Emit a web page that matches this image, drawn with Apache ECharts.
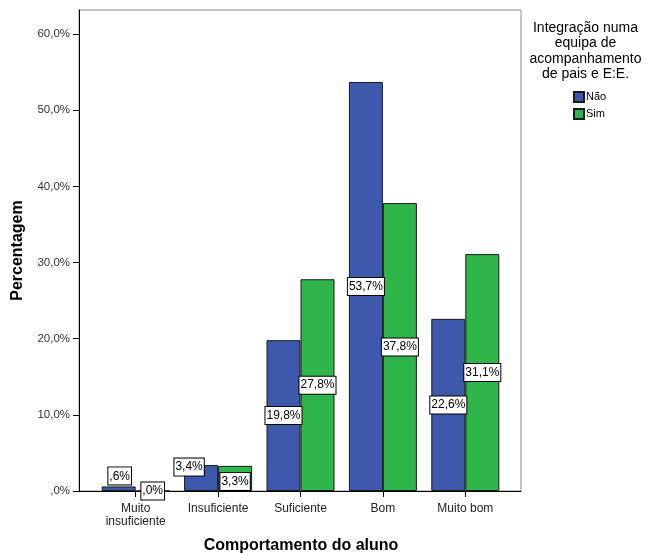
<!DOCTYPE html>
<html>
<head>
<meta charset="utf-8">
<script src="https://cdn.jsdelivr.net/npm/echarts@6/dist/echarts.min.js"></script>
<style>html,body{margin:0;padding:0;background:#fff;}#c{width:649px;height:553px;}</style>
</head>
<body>
<div id="c"></div>
<script>
const categories = ['Muito\ninsuficiente', 'Insuficiente', 'Suficiente', 'Bom', 'Muito bom'];
const seriesNames = ['Não', 'Sim'];
const naoValues = [0.6, 3.4, 19.8, 53.7, 22.6];
const simValues = [0.0, 3.3, 27.8, 37.8, 31.1];
const yTickValues = [0, 10, 20, 30, 40, 50, 60];
const legendTitle = 'Integração numa\nequipa de\nacompanhamento\nde pais e E:E.';
const xTitle = 'Comportamento do aluno';
const yTitle = 'Percentagem';

const FONT = '"Liberation Sans", Arial, sans-serif';
const YMAX = 63.15;

function pct(v) {
  let s = v.toFixed(1).replace('.', ',');
  if (s.startsWith('0')) s = s.slice(1);
  return s + '%';
}

const baseLabel = {
  show: true,
  position: 'inside',
  formatter: p => pct(p.value),
  color: '#000',
  fontFamily: FONT,
  fontSize: 12,
  backgroundColor: '#fff',
  borderColor: '#000',
  borderWidth: 1,
  padding: [3, 1, 2, 1]
};

// label placement overrides (style only)
const naoLabelOverrides = { 0: { position: 'top', distance: 2, offset: [1, 0] }, 1: { position: 'inside', offset: [-12, -11] } };
const simLabelOverrides = { 1: { position: 'inside', offset: [0, 3] } };

function buildData(values, overrides) {
  return values.map((v, i) => overrides[i] ? { value: v, label: overrides[i] } : v);
}

const chart = echarts.init(document.getElementById('c'), null, { renderer: 'canvas' });
chart.setOption({
  animation: false,
  backgroundColor: '#fff',
  grid: [
    { left: 79, top: 10, width: 442, height: 481, show: true, borderColor: '#8a8a8a', borderWidth: 1, backgroundColor: 'transparent' },
    { left: 94.5, top: 10, width: 412, height: 481 }
  ],
  xAxis: [
    { type: 'value', gridIndex: 0, min: 0, max: 1, axisLine: { show: true, lineStyle: { color: '#000', width: 1 } }, axisTick: { show: false }, axisLabel: { show: false }, splitLine: { show: false } },
    { type: 'category', gridIndex: 1, data: categories, boundaryGap: true,
      axisLine: { show: true, lineStyle: { color: '#000', width: 1 } },
      axisTick: { show: true, alignWithLabel: true, length: 6, lineStyle: { color: '#000' } },
      axisLabel: { color: '#222', fontFamily: FONT, fontSize: 12, margin: 11, lineHeight: 13, interval: 0 } }
  ],
  yAxis: [
    { type: 'value', gridIndex: 0, min: 0, max: YMAX, interval: 10,
      axisLine: { show: true, lineStyle: { color: '#000', width: 1 } },
      axisTick: { show: true, length: 6, lineStyle: { color: '#000' }, customValues: yTickValues },
      axisLabel: { color: '#333', fontFamily: FONT, fontSize: 11.5, margin: 9, customValues: yTickValues,
        formatter: v => pct(v) },
      splitLine: { show: false } },
    { type: 'value', gridIndex: 1, min: 0, max: YMAX, show: false, splitLine: { show: false } }
  ],
  legend: {
    data: seriesNames,
    orient: 'vertical',
    left: 568, top: 86,
    itemWidth: 10, itemHeight: 10, itemGap: 5,
    icon: 'rect',
    textStyle: { fontFamily: FONT, fontSize: 11, color: '#000', padding: [0, 0, 0, -3] }
  },
  graphic: [
    { type: 'text', x: 585.5, y: 20, style: { text: legendTitle, textAlign: 'center', textVerticalAlign: 'top', font: '14px ' + FONT, lineHeight: 15.5, fill: '#000' } },
    { type: 'text', x: 301, y: 546, style: { text: xTitle, textAlign: 'center', textVerticalAlign: 'middle', font: 'bold 16px ' + FONT, fill: '#000' } },
    { type: 'text', x: 18, y: 250.5, rotation: Math.PI / 2, style: { text: yTitle, textAlign: 'center', textVerticalAlign: 'middle', font: 'bold 16px ' + FONT, fill: '#000' } }
  ],
  series: [
    { name: 'Não', type: 'bar', xAxisIndex: 1, yAxisIndex: 1, barWidth: 34, barGap: '0%',
      itemStyle: { color: '#3E58AB', borderColor: '#1a1a1a', borderWidth: 1 },
      label: baseLabel, data: buildData(naoValues, naoLabelOverrides), z: 3 },
    { name: 'Sim', type: 'bar', xAxisIndex: 1, yAxisIndex: 1, barWidth: 34, barGap: '0%',
      itemStyle: { color: '#2EB64A', borderColor: '#1a1a1a', borderWidth: 1 },
      label: baseLabel, data: buildData(simValues, simLabelOverrides), z: 3 }
  ]
});
</script>
</body>
</html>
